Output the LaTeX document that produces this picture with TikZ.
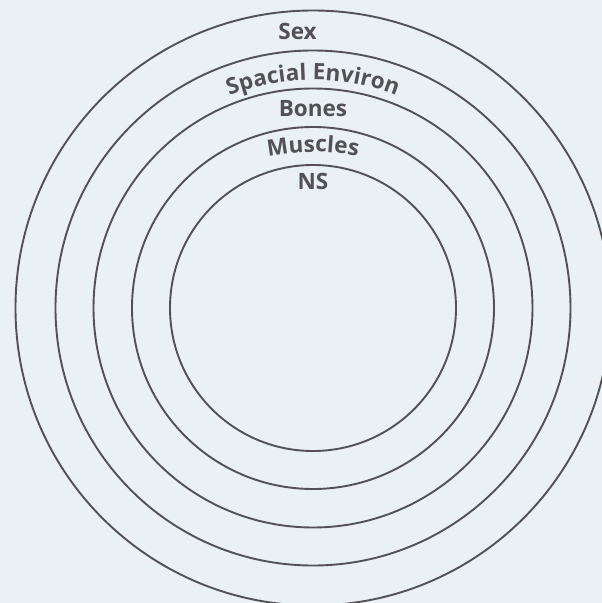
\documentclass[tikz,border=0pt]{standalone}
\usepackage{fontspec}
\setmainfont{Open Sans}
\usetikzlibrary{decorations.text}
\definecolor{ringgray}{HTML}{555055}
\definecolor{bggray}{HTML}{E9F1F4}

\begin{document}
\begin{tikzpicture}[
    x=1pt, y=1pt,
    ring/.style={draw=ringgray, line width=1.9pt},
    lbl/.style={text=ringgray, font=\bfseries\fontsize{22.5}{22.5}\selectfont,
        anchor=base, inner sep=0pt},
    arclbl/.style={decorate, decoration={text along path, text align=center,
        text color=ringgray, text={|\bfseries\fontsize{22.5}{22.5}\selectfont|#1}}}]

    % Background
    \fill[bggray] (-313,-295) rectangle (289,308);
    \useasboundingbox (-313,-295) rectangle (289,308);
    \clip (-313,-295) rectangle (289,308);

    % Draw rings
    \foreach \r in {143,181,219.5,257.5,297.5}
        \draw[ring] (0,0) circle[radius=\r];

    % Straight labels
    \node[lbl] (sex) at (-15.5,268) {Sex};
    \node[lbl] (bones) at (0,191) {Bones};
    \node[lbl] (ns) at (0,118) {NS};

    % Curved labels
    \path[arclbl={Spacial Environ}] (120:228) arc[start angle=120, end angle=60, radius=228];
    \path[arclbl={Muscles}] (0,-79) ++(120:235) arc[start angle=120, end angle=60, radius=235];
\end{tikzpicture}
\end{document}
